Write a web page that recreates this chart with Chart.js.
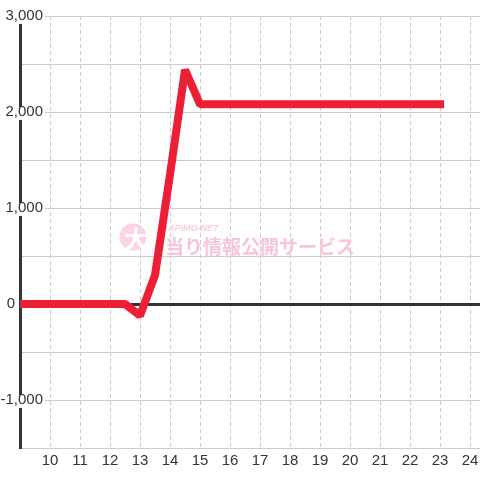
<!DOCTYPE html>
<html>
<head>
<meta charset="utf-8">
<script src="https://cdn.jsdelivr.net/npm/chart.js@4/dist/chart.umd.min.js"></script>
<style>
    html, body { margin: 0; padding: 0; background: #fff; }
</style>
</head>
<body>
<canvas id="chart" width="480" height="480"></canvas>
<script>
// 時刻 (x) と差枚 (y)
const hours = [9, 9.5, 10, 10.5, 11, 11.5, 12, 12.5, 13, 13.5, 14, 14.5, 15, 15.5, 16, 16.5, 17, 17.5, 18, 18.5, 19, 19.5, 20, 20.5, 21, 21.5, 22, 22.5, 23];
const values = [0, 0, 0, 0, 0, 0, 0, 0, -120, 300, 1350, 2440, 2080, 2080, 2080, 2080, 2080, 2080, 2080, 2080, 2080, 2080, 2080, 2080, 2080, 2080, 2080, 2080, 2080];
const xTicks = [9, 10, 11, 12, 13, 14, 15, 16, 17, 18, 19, 20, 21, 22, 23, 24];
const yLabelled = [-1000, 0, 1000, 2000, 3000];

const points = hours.map((h, i) => ({ x: h, y: values[i] }));

const labelFont = { family: '"Liberation Sans", Arial', size: 15 };
const zeroLabel = '0      \u2009'; // 0 だけ左寄せに見せる

function yLabel(v) {
    if (!yLabelled.includes(v)) return '';
    if (v === 0) return zeroLabel;
    return v.toLocaleString('en-US');
}

// ラベル右端を x=43 に揃えるための padding
const mctx = document.createElement('canvas').getContext('2d');
mctx.font = '15px "Liberation Sans", Arial';
const widest = Math.max(...yLabelled.map(v => mctx.measureText(yLabel(v)).width));

// 透かしロゴ
const watermark = {
    id: 'watermark',
    beforeDatasetsDraw(chart) {
        const c = chart.ctx;
        c.save();
        c.fillStyle = '#fbd3e6';
        c.beginPath();
        c.arc(133, 237, 13.5, 0, Math.PI * 2);
        c.fill();
        c.fillStyle = '#ffffff';
        c.font = 'bold 24px "Noto Sans CJK JP"';
        c.textAlign = 'center';
        c.textBaseline = 'middle';
        c.fillText('大', 136, 239);
        c.fillStyle = '#f9cde1';
        c.textAlign = 'left';
        c.textBaseline = 'alphabetic';
        c.font = 'italic bold 9px "Liberation Sans"';
        c.fillText('APIMO-NET', 168, 231);
        c.fillStyle = '#f8c4dc';
        c.font = 'bold 19px "Noto Sans CJK JP"';
        c.fillText('当り情報公開サービス', 165, 254);
        c.restore();
    }
};

const ctx = document.getElementById('chart').getContext('2d');
new Chart(ctx, {
    type: 'line',
    data: {
        datasets: [{
            data: points,
            borderColor: '#ec1f35',
            borderWidth: 8,
            borderCapStyle: 'square',
            borderJoinStyle: 'bevel',
            pointRadius: 0,
            tension: 0
        }]
    },
    options: {
        responsive: false,
        animation: false,
        layout: { padding: { top: 16, left: 0, right: 0, bottom: 0 } },
        plugins: { legend: { display: false }, tooltip: { enabled: false } },
        scales: {
            x: {
                type: 'linear',
                min: 9,
                max: 24.33,
                afterBuildTicks: (axis) => { axis.ticks = xTicks.map(v => ({ value: v })); },
                afterFit: (s) => { s.height = 32; s.paddingLeft = 0; s.paddingRight = 0; },
                ticks: {
                    autoSkip: false,
                    maxRotation: 0,
                    padding: 4,
                    color: '#333',
                    font: labelFont,
                    callback: (v) => v === 9 ? '' : String(v)
                },
                grid: { color: '#cccccc', lineWidth: 1, drawTicks: false },
                border: { display: false, dash: [4, 3] }
            },
            y: {
                min: -1500,
                max: 3000,
                afterFit: (s) => { s.width = 20; s.paddingTop = 0; s.paddingBottom = 0; },
                ticks: {
                    stepSize: 500,
                    mirror: true,
                    crossAlign: 'far',
                    padding: 23 - widest,
                    color: '#333',
                    font: labelFont,
                    showLabelBackdrop: true,
                    backdropPadding: { top: -4, bottom: -1, left: 2, right: 2 },
                    backdropColor: (c) => (c.tick && c.tick.value !== 0 && yLabelled.includes(c.tick.value)) ? '#ffffff' : 'rgba(0,0,0,0)',
                    callback: (v) => yLabel(v)
                },
                grid: {
                    drawTicks: false,
                    color: (c) => c.tick && c.tick.value === 0 ? '#333' : '#cccccc',
                    lineWidth: (c) => c.tick && c.tick.value === 0 ? 3 : 1
                },
                border: { display: true, color: '#333', width: 3 }
            }
        }
    },
    plugins: [watermark]
});
</script>
</body>
</html>
